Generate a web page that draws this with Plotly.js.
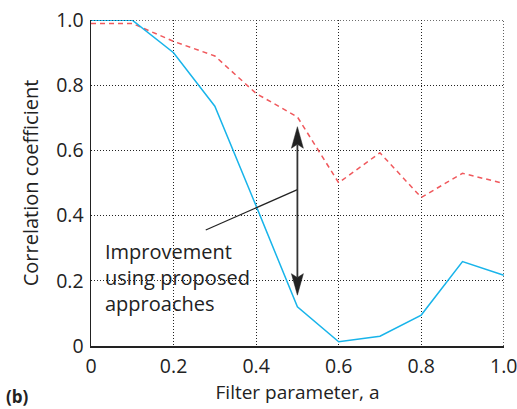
<!DOCTYPE html>
<html>
<head>
<meta charset="utf-8">
<script src="https://cdn.plot.ly/plotly-3.0.1.min.js"></script>
<style>html,body{margin:0;padding:0;background:#fff;}#chart{width:517px;height:409px;}</style>
</head>
<body>
<div id="chart"></div>
<script>
const xValues = [0, 0.1, 0.2, 0.3, 0.4, 0.5, 0.6, 0.7, 0.8, 0.9, 1.0];
const blueSeries = [1.0, 1.0, 0.90, 0.736, 0.43, 0.12, 0.013, 0.03, 0.095, 0.259, 0.217];
const redSeries = [0.99, 0.99, 0.935, 0.89, 0.775, 0.703, 0.501, 0.593, 0.456, 0.53, 0.499];
const tickVals = [0, 0.2, 0.4, 0.6, 0.8, 1.0];
const tickLabels = ["0", "0.2", "0.4", "0.6", "0.8", "1.0"];
const arrowX = 0.5, arrowTop = 0.673, arrowBottom = 0.156;
const calloutFrom = [0.278, 0.356], calloutTo = [0.5, 0.48];
const calloutText = "Improvement<br>using proposed<br>approaches";

const FONT = "'Open Sans', 'Noto Sans', sans-serif";
const traces = [
  {x: xValues, y: redSeries, mode: 'lines', line: {color: '#f0585c', width: 1.5, dash: '5px,4px'}, cliponaxis: false},
  {x: xValues, y: blueSeries, mode: 'lines', line: {color: '#18b4ea', width: 1.5}, cliponaxis: false}
];
const axisBase = {
  range: [0, 1.0005], tickvals: tickVals, ticktext: tickLabels,
  showgrid: true, gridcolor: '#222', griddash: '1px,2px', gridwidth: 1,
  zeroline: false, showline: true, linecolor: '#222', linewidth: 1.5,
  ticks: '', ticklabeloverflow: 'allow', tickfont: {family: FONT, size: 19.5, color: '#222'}
};
// arrowhead geometry (in axis units, relative to arrow tips)
const headLen = 0.066, headHalf = 0.0145, notch = 0.012;
function head(tip, dir) {
  const b = tip - dir * headLen, n = tip - dir * (headLen - notch);
  return `M ${arrowX},${tip} L ${arrowX - headHalf},${b} L ${arrowX},${n} L ${arrowX + headHalf},${b} Z`;
}
const layout = {
  width: 517, height: 409,
  margin: {l: 91, r: 13, t: 20, b: 63},
  showlegend: false,
  paper_bgcolor: '#fff', plot_bgcolor: '#fff',
  xaxis: Object.assign({}, axisBase, {ticklabelstandoff: 2, title: {text: 'Filter parameter, a', font: {family: FONT, size: 19, color: '#222'}, standoff: 6}}),
  yaxis: Object.assign({}, axisBase, {ticklabelstandoff: 2, title: {text: 'Correlation coefficient', font: {family: FONT, size: 20, color: '#222'}, standoff: 12}}),
  shapes: [
    {type: 'line', x0: 1, x1: 1, y0: 0, y1: 1, xref: 'x', yref: 'y', line: {color: '#222', width: 1, dash: '1px,2px'}},
    {type: 'line', x0: 0, x1: 1, y0: 1, y1: 1, xref: 'x', yref: 'y', line: {color: '#222', width: 1, dash: '1px,2px'}},
    {type: 'line', x0: calloutFrom[0], y0: calloutFrom[1], x1: calloutTo[0], y1: calloutTo[1], xref: 'x', yref: 'y', line: {color: '#222', width: 1.2}},
    {type: 'line', x0: arrowX, x1: arrowX, y0: arrowBottom + headLen - notch, y1: arrowTop - headLen + notch, xref: 'x', yref: 'y', line: {color: '#333', width: 1.8}},
    {type: 'path', path: head(arrowTop, 1), xref: 'x', yref: 'y', fillcolor: '#222', line: {color: '#222', width: 0.5}},
    {type: 'path', path: head(arrowBottom, -1), xref: 'x', yref: 'y', fillcolor: '#222', line: {color: '#222', width: 0.5}}
  ],
  annotations: [
    {x: 0.03, y: 0.21, xref: 'x', yref: 'y', xanchor: 'left', yanchor: 'middle', align: 'left', showarrow: false,
     text: calloutText, font: {family: FONT, size: 20, color: '#222'}},
    {x: 0, y: 0, xref: 'paper', yref: 'paper', xanchor: 'left', yanchor: 'bottom', xshift: -87, yshift: -64, showarrow: false,
     text: '<b>(b)</b>', font: {family: FONT, size: 17, color: '#222'}}
  ]
};
Plotly.newPlot('chart', traces, layout, {displayModeBar: false, staticPlot: true});
</script>
</body>
</html>
